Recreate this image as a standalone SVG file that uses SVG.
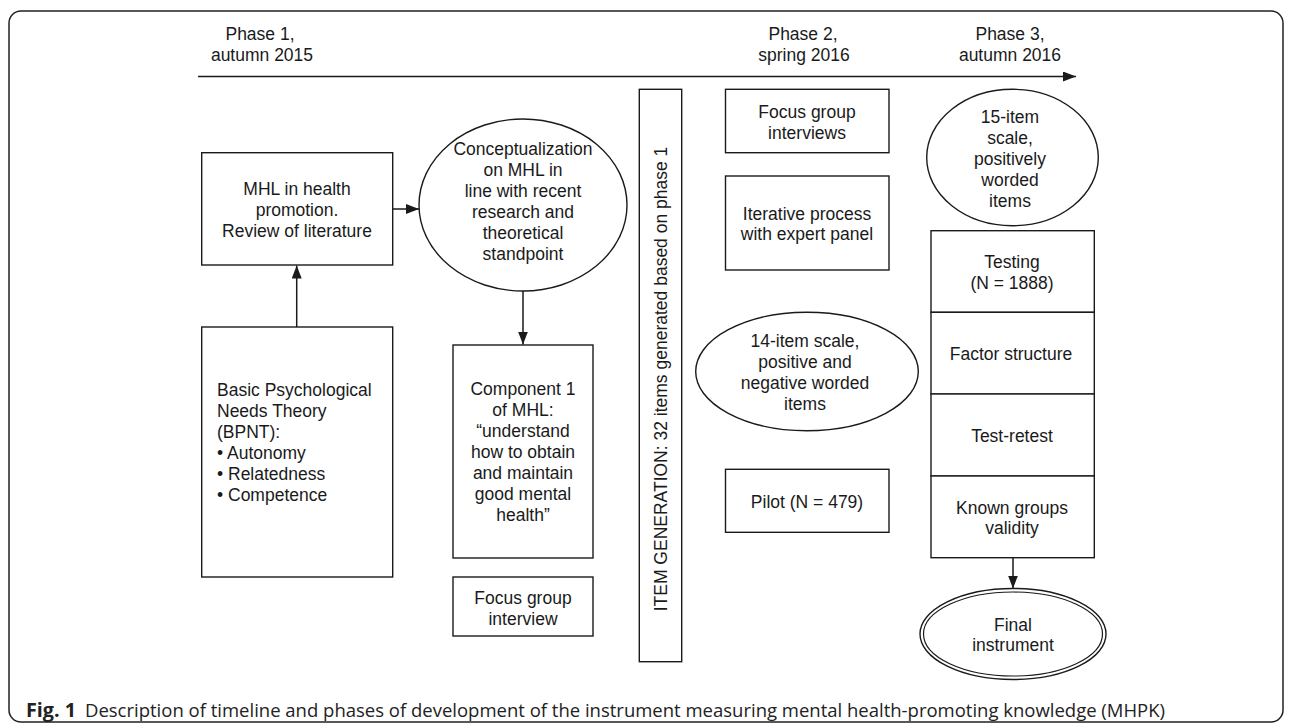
<svg xmlns="http://www.w3.org/2000/svg" width="1290" height="724" viewBox="0 0 1290 724">
<style>
.t{font-family:"Liberation Sans",Arial,sans-serif;font-size:17.5px;fill:#1a1a1a}
.c{text-anchor:middle}
.s{fill:#fff;stroke:#1a1a1a;stroke-width:1.4}
.ln{fill:none;stroke:#1a1a1a;stroke-width:1.5}
.cap{font-family:"Open Sans","Noto Sans",sans-serif;font-size:19px;fill:#222}
</style>
<defs>
<marker id="ah" markerUnits="userSpaceOnUse" markerWidth="14" markerHeight="11" refX="13" refY="5" orient="auto">
<path d="M0,0 L13,5 L0,10 Z" fill="#1a1a1a"/>
</marker>
</defs>
<rect x="0" y="0" width="1290" height="724" fill="#fff"/>
<rect x="9" y="11" width="1274" height="711" rx="12" fill="none" stroke="#222" stroke-width="1.5"/>

<g id="headers">
<text class="t c" x="260" y="40">Phase 1,</text>
<text class="t c" x="262" y="60.5">autumn 2015</text>
<text class="t c" x="803" y="40">Phase 2,</text>
<text class="t c" x="804" y="60.5">spring 2016</text>
<text class="t c" x="1010" y="40">Phase 3,</text>
<text class="t c" x="1010" y="60.5">autumn 2016</text>
</g>

<g id="connectors">
<line class="ln" x1="198" y1="76.5" x2="1076" y2="76.5" marker-end="url(#ah)"/>
<line class="ln" x1="392.7" y1="209" x2="419" y2="209" marker-end="url(#ah)"/>
<line class="ln" x1="296.7" y1="327" x2="296.7" y2="265.5" marker-end="url(#ah)"/>
<line class="ln" x1="523" y1="291" x2="523" y2="344.5" marker-end="url(#ah)"/>
<line class="ln" x1="1013" y1="557.7" x2="1013" y2="588.5" marker-end="url(#ah)"/>
</g>

<g id="mhl">
<rect class="s" x="201.7" y="152.7" width="191" height="112.3"/>
<text class="t c" x="297" y="195">MHL in health</text>
<text class="t c" x="297" y="216">promotion.</text>
<text class="t c" x="297" y="237">Review of literature</text>
</g>

<g id="concept">
<ellipse class="s" cx="523" cy="205" rx="104" ry="86"/>
<text class="t c" x="523" y="155">Conceptualization</text>
<text class="t c" x="523" y="176">on MHL in</text>
<text class="t c" x="523" y="197">line with recent</text>
<text class="t c" x="523" y="218">research and</text>
<text class="t c" x="523" y="239">theoretical</text>
<text class="t c" x="523" y="260">standpoint</text>
</g>

<g id="bpnt">
<rect class="s" x="201.7" y="327" width="191" height="250"/>
<text class="t" x="217" y="396">Basic Psychological</text>
<text class="t" x="217" y="417">Needs Theory</text>
<text class="t" x="217" y="438">(BPNT):</text>
<text class="t" x="217" y="459">• Autonomy</text>
<text class="t" x="217" y="480">• Relatedness</text>
<text class="t" x="217" y="501">• Competence</text>
</g>

<g id="component">
<rect class="s" x="453" y="345" width="140" height="213"/>
<text class="t c" x="523" y="395">Component 1</text>
<text class="t c" x="523" y="416">of MHL:</text>
<text class="t c" x="523" y="437">“understand</text>
<text class="t c" x="523" y="458">how to obtain</text>
<text class="t c" x="523" y="479">and maintain</text>
<text class="t c" x="523" y="500">good mental</text>
<text class="t c" x="523" y="521">health”</text>
</g>

<g id="focus1">
<rect class="s" x="453" y="577" width="140" height="59"/>
<text class="t c" x="523" y="604">Focus group</text>
<text class="t c" x="523" y="624.5">interview</text>
</g>

<g id="itemgen">
<rect class="s" x="639.3" y="89.3" width="42.4" height="572.4"/>
<text class="t c" transform="translate(666.5,379) rotate(-90)" x="0" y="0">ITEM GENERATION: 32 items generated based on phase 1</text>
</g>

<g id="focus2">
<rect class="s" x="725.5" y="89.3" width="163.5" height="63.4"/>
<text class="t c" x="807" y="118">Focus group</text>
<text class="t c" x="807" y="138.5">interviews</text>
</g>

<g id="iterative">
<rect class="s" x="725.5" y="176" width="163.5" height="94"/>
<text class="t c" x="807" y="219.5">Iterative process</text>
<text class="t c" x="807" y="240">with expert panel</text>
</g>

<g id="scale14">
<ellipse class="s" cx="807" cy="371.5" rx="111.3" ry="59.2"/>
<text class="t c" x="805" y="347">14-item scale,</text>
<text class="t c" x="805" y="368">positive and</text>
<text class="t c" x="805" y="389">negative worded</text>
<text class="t c" x="805" y="410">items</text>
</g>

<g id="pilot">
<rect class="s" x="725.5" y="469.3" width="163.5" height="63"/>
<text class="t c" x="807" y="507.5">Pilot (N = 479)</text>
</g>

<g id="scale15">
<ellipse class="s" cx="1012.5" cy="157.5" rx="85.8" ry="68.2"/>
<text class="t c" x="1010" y="122.5">15-item</text>
<text class="t c" x="1010" y="143.5">scale,</text>
<text class="t c" x="1010" y="164.5">positively</text>
<text class="t c" x="1010" y="185.5">worded</text>
<text class="t c" x="1010" y="206.5">items</text>
</g>

<g id="testing">
<rect class="s" x="931" y="230.7" width="163.3" height="81.6"/>
<text class="t c" x="1012" y="268">Testing</text>
<text class="t c" x="1012" y="288.5">(N = 1888)</text>
</g>
<g id="factor">
<rect class="s" x="931" y="312.3" width="163.3" height="81.7"/>
<text class="t c" x="1011" y="360">Factor structure</text>
</g>
<g id="retest">
<rect class="s" x="931" y="394" width="163.3" height="82"/>
<text class="t c" x="1012" y="441.5">Test-retest</text>
</g>
<g id="known">
<rect class="s" x="931" y="476" width="163.3" height="81.7"/>
<text class="t c" x="1012" y="514">Known groups</text>
<text class="t c" x="1012" y="534">validity</text>
</g>

<g id="final">
<ellipse class="s" cx="1013" cy="634" rx="93" ry="45.5"/>
<ellipse fill="none" stroke="#1a1a1a" stroke-width="1.2" cx="1013" cy="634" rx="89.5" ry="42"/>
<text class="t c" x="1013" y="631">Final</text>
<text class="t c" x="1013" y="651">instrument</text>
</g>

<g id="caption">
<text class="cap" x="26" y="717" font-weight="bold" textLength="50" lengthAdjust="spacingAndGlyphs">Fig. 1</text>
<text class="cap" x="85" y="717" textLength="1080" lengthAdjust="spacingAndGlyphs">Description of timeline and phases of development of the instrument measuring mental health-promoting knowledge (MHPK)</text>
</g>
</svg>
